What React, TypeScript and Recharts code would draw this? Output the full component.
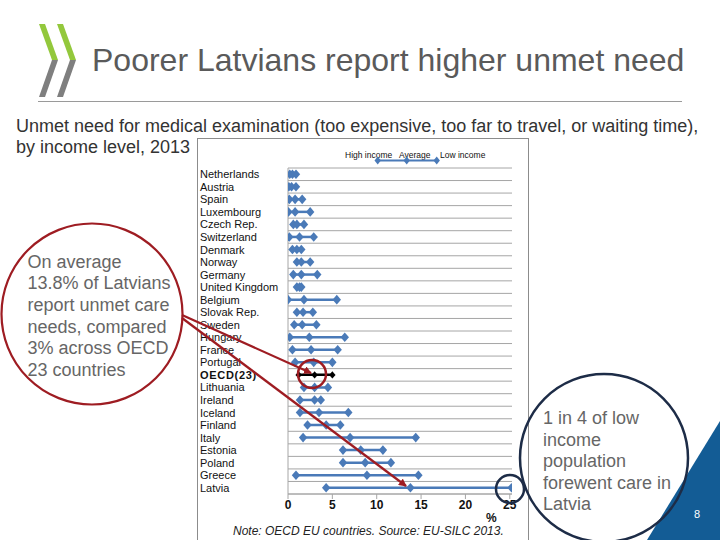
import React from "react";
import { ComposedChart, Bar, Scatter, XAxis, YAxis, CartesianGrid, Cell } from "recharts";

const countries = [
  "Netherlands", "Austria", "Spain", "Luxembourg", "Czech Rep.", "Switzerland", "Denmark",
  "Norway", "Germany", "United Kingdom", "Belgium", "Slovak Rep.", "Sweden", "Hungary",
  "France", "Portugal", "OECD(23)", "Lithuania", "Ireland", "Iceland", "Finland", "Italy",
  "Estonia", "Poland", "Greece", "Latvia",
];
const highIncome = [0.2, 0.1, 0.15, 0.05, 0.6, 0.15, 0.5, 1.0, 0.6, 1.0, 0.0, 1.0, 0.7, 0.2, 0.5, 0.8, 1.2, 1.8, 1.35, 1.35, 2.2, 1.7, 6.2, 6.2, 0.9, 4.3];
const average = [0.5, 0.4, 0.8, 0.8, 1.0, 1.3, 1.0, 1.5, 1.5, 1.3, 1.8, 1.7, 1.6, 2.4, 2.6, 2.9, 3.0, 3.0, 3.0, 3.5, 4.3, 7.0, 8.2, 8.7, 8.9, 13.8];
const lowIncome = [0.9, 0.9, 1.6, 2.5, 1.8, 2.9, 1.5, 2.5, 3.3, 1.5, 5.5, 2.8, 3.2, 6.4, 5.6, 5.0, 5.0, 4.5, 3.7, 6.8, 5.9, 14.4, 10.7, 11.6, 14.7, 25.2];
const xTicks = [0, 5, 10, 15, 20, 25];
const legendLabels = ["High income", "Average", "Low income"];

const OECD = "OECD(23)";
const BLUE = "#4a7ab8";
const GRID = "#a6a6a6";
const FONT = "'Liberation Sans', Arial, sans-serif";

const data = countries.map((name, i) => ({
  name,
  high: highIncome[i],
  avg: average[i],
  low: lowIncome[i],
}));

// gridlines sit on the category band edges (Excel style), taken from the axis' band scale
const bandEdges = ({ yAxis }: any) => {
  const s = yAxis && yAxis.scale;
  if (!s) return [];
  const at = (v: string) => (typeof s === "function" ? s(v) : s.map(v));
  const bw = typeof s.bandwidth === "function" ? s.bandwidth() : 0;
  const pts = countries.map((c) => at(c));
  pts.push(at(countries[countries.length - 1]) + bw);
  return pts.filter((p) => Number.isFinite(p));
};

const Diamond = (props: any) => {
  const { cx, cy, payload } = props;
  if (cx == null || cy == null) return null;
  const isOecd = payload && payload.name === OECD;
  const w = isOecd ? 3.2 : 4.2;
  const h = isOecd ? 3.6 : 4.8;
  return (
    <polygon
      points={`${cx},${cy - h} ${cx + w},${cy} ${cx},${cy + h} ${cx - w},${cy}`}
      fill={isOecd ? "#000" : BLUE}
    />
  );
};

const CountryTick = (props: any) => {
  const { y, payload } = props;
  const bold = payload.value === OECD;
  return (
    <text
      x={3}
      y={y}
      dy={4}
      fontSize={11}
      fontFamily={FONT}
      fontWeight={bold ? "bold" : "normal"}
      letterSpacing={bold ? 0.7 : 0}
      fill="#111"
      textAnchor="start"
    >
      {payload.value}
    </text>
  );
};

const Chevron = ({ x }: { x: number }) => (
  <g>
    <polygon points={`${x},24 ${x + 6},24 ${x + 19},60 ${x + 13},60`} fill="#93c83c" />
    <polygon points={`${x + 13},60 ${x + 19},60 ${x + 6},97 ${x},97`} fill="#7f7f7f" />
  </g>
);

const leftNote = ["On average", "13.8% of Latvians", "report unmet care", "needs, compared", "3% across OECD", "23 countries"];
const rightNote = ["1 in 4 of low", "income", "population", "forewent care in", "Latvia"];

export default function App() {
  const red = "#9e1c22";
  const navy = "#1d2c47";
  return (
    <div style={{ position: "absolute", left: 0, top: 0, width: 720, height: 540, background: "#fff", overflow: "hidden", fontFamily: FONT }}>
      <svg width={720} height={540} style={{ position: "absolute", left: 0, top: 0 }}>
        <rect x={197.5} y={138.5} width={331} height={420} fill="#fff" stroke="#8c8c8c" strokeWidth={1} />
      </svg>

      <div style={{ position: "absolute", left: 197, top: 138 }}>
        <ComposedChart
          width={331}
          height={402}
          data={data}
          layout="vertical"
          margin={{ top: 30, right: 16, left: 0, bottom: 26 }}
        >
          <CartesianGrid
            yAxisId="cat"
            horizontal
            vertical={false}
            stroke={GRID}
            horizontalCoordinatesGenerator={bandEdges}
          />
          <XAxis
            type="number"
            domain={[0, 25.25]}
            ticks={xTicks}
            allowDataOverflow
            axisLine={{ stroke: GRID }}
            tickLine={{ stroke: GRID }}
            tickSize={5}
            tickMargin={1}
            height={20}
            tick={{ fontSize: 12, fontWeight: "bold", fill: "#111", fontFamily: FONT }}
          />
          <YAxis
            yAxisId="cat"
            type="category"
            dataKey="name"
            width={91}
            axisLine={{ stroke: GRID }}
            tickLine={false}
            interval={0}
            tick={<CountryTick />}
          />
          <YAxis
            yAxisId="edge"
            orientation="right"
            type="number"
            domain={[0, countries.length]}
            width={0}
            axisLine={{ stroke: GRID }}
            tick={false}
            tickLine={false}
          />
          <Bar yAxisId="cat" dataKey={(d: any) => [d.high, d.low]} barSize={2.5} isAnimationActive={false}>
            {data.map((d) => (
              <Cell key={d.name} fill={d.name === OECD ? "#000" : BLUE} />
            ))}
          </Bar>
          <Scatter yAxisId="cat" dataKey="high" shape={<Diamond />} isAnimationActive={false} />
          <Scatter yAxisId="cat" dataKey="avg" shape={<Diamond />} isAnimationActive={false} />
          <Scatter yAxisId="cat" dataKey="low" shape={<Diamond />} isAnimationActive={false} />
        </ComposedChart>
      </div>

      <svg width={720} height={540} style={{ position: "absolute", left: 0, top: 0, pointerEvents: "none" }}>
        <Chevron x={39} />
        <Chevron x={57} />
        <text x={92} y={71} fontSize={32} fill="#5a5a5a" fontFamily={FONT}>
          Poorer Latvians report higher unmet need
        </text>
        <line x1={38} y1={101.5} x2={682} y2={101.5} stroke="#9a9a9a" strokeWidth={1} />
        <text x={16} y={132} fontSize={18} fill="#333" fontFamily={FONT}>
          Unmet need for medical examination (too expensive, too far to travel, or waiting time),
        </text>
        <text x={16} y={153} fontSize={18} fill="#333" fontFamily={FONT}>
          by income level, 2013
        </text>

        {/* legend */}
        <text x={345} y={158} fontSize={8.5} fill="#111" fontFamily={FONT}>{legendLabels[0]}</text>
        <text x={399} y={158} fontSize={8.5} fill="#111" fontFamily={FONT}>{legendLabels[1]}</text>
        <text x={440} y={158} fontSize={8.5} fill="#111" fontFamily={FONT}>{legendLabels[2]}</text>
        <line x1={377.7} y1={160.5} x2={436.7} y2={160.5} stroke={BLUE} strokeWidth={2} />
        {[377.7, 406.7, 436.7].map((cx) => (
          <polygon key={cx} points={`${cx},156.5 ${cx + 3.2},160.5 ${cx},164.5 ${cx - 3.2},160.5`} fill={BLUE} />
        ))}

        <text x={486} y={522} fontSize={12} fontWeight="bold" fill="#111" fontFamily={FONT}>%</text>
        <text x={233} y={535} fontSize={12} fontStyle="italic" fill="#222" fontFamily={FONT}>
          Note: OECD EU countries.  Source: EU-SILC 2013.
        </text>

        {/* left callout */}
        {leftNote.map((t, i) => (
          <text key={t} x={27.5} y={267.5 + i * 21.7} fontSize={18} fill="#666" fontFamily={FONT}>{t}</text>
        ))}
        <circle cx={92} cy={314} r={90.5} fill="none" stroke={red} strokeWidth={2.2} />
        <defs>
          <marker id="redHead" markerWidth="8" markerHeight="8" refX="7" refY="4" orient="auto" markerUnits="userSpaceOnUse">
            <path d="M0,0 L8,4 L0,8 Z" fill={red} />
          </marker>
        </defs>
        <line x1={182} y1={315} x2={311} y2={373} stroke={red} strokeWidth={2.2} markerEnd="url(#redHead)" />
        <line x1={182} y1={318} x2={406} y2={486} stroke={red} strokeWidth={2.2} markerEnd="url(#redHead)" />
        <circle cx={312} cy={374} r={14} fill="none" stroke={red} strokeWidth={2.5} />

        {/* bottom-right corner */}
        <polygon points="647,540 720,421 720,540" fill="#135c95" />
        <text x={694} y={518} fontSize={11} fill="#fff" fontFamily={FONT}>8</text>

        {/* right callout */}
        {rightNote.map((t, i) => (
          <text key={t} x={543} y={424.3 + i * 21.4} fontSize={18} fill="#666" fontFamily={FONT}>{t}</text>
        ))}
        <circle cx={604} cy={458} r={84} fill="none" stroke={navy} strokeWidth={2.5} />
        <circle cx={510} cy={489} r={14} fill="none" stroke={navy} strokeWidth={2.5} />
      </svg>
    </div>
  );
}
